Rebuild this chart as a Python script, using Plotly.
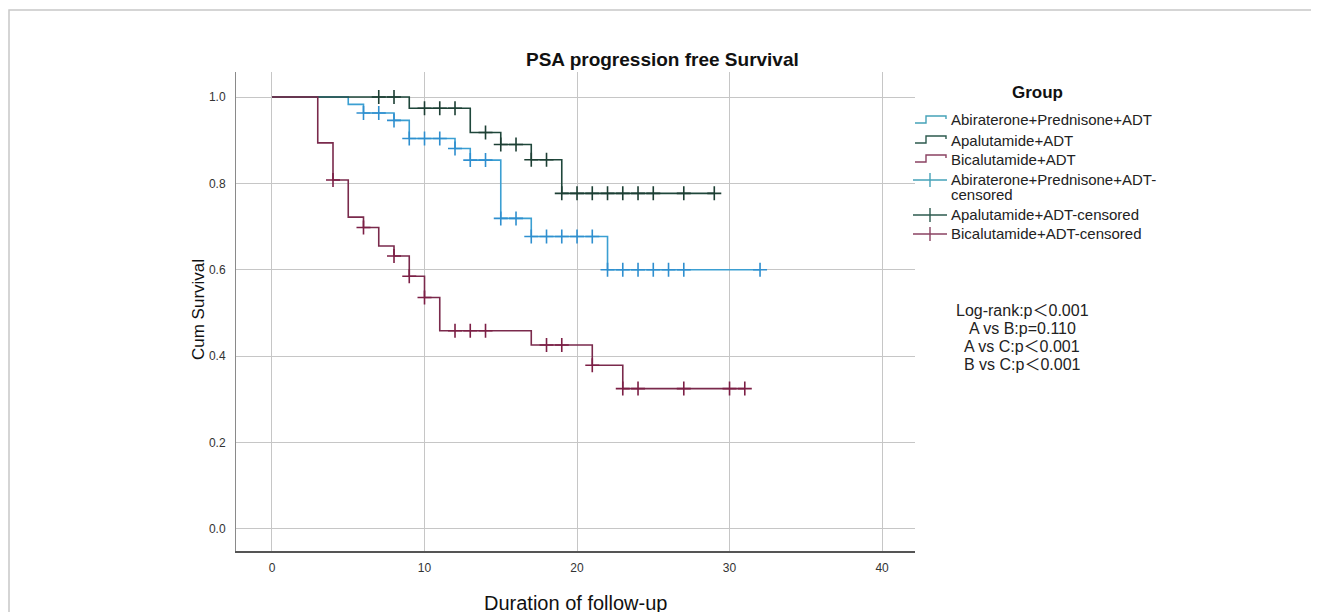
import plotly.graph_objects as go

# ---- data ----
abi_times = [0, 5, 6, 8, 9, 12, 13, 15, 17, 22, 32]
abi_surv = [1.0, 0.983, 0.963, 0.946, 0.904, 0.881, 0.854, 0.719, 0.677, 0.600, 0.600]
abi_cens = [6, 7, 8, 9, 10, 11, 12, 13, 14, 15, 16, 17, 18, 19, 20, 21, 22, 23, 24, 25, 26, 27, 32]

apa_times = [0, 9, 13, 15, 17, 19, 29]
apa_surv = [1.0, 0.974, 0.918, 0.890, 0.855, 0.777, 0.777]
apa_cens = [7, 8, 10, 11, 12, 14, 15, 16, 17, 18, 19, 20, 21, 22, 23, 24, 25, 27, 29]

bic_times = [0, 3, 4, 5, 6, 7, 8, 9, 10, 11, 17, 21, 23, 31]
bic_surv = [1.0, 0.894, 0.808, 0.722, 0.698, 0.655, 0.632, 0.585, 0.536, 0.459, 0.426, 0.379, 0.325, 0.325]
bic_cens = [4, 6, 8, 9, 10, 12, 13, 14, 18, 19, 21, 23, 24, 27, 30, 31]

group_names = ["Abiraterone+Prednisone+ADT", "Apalutamide+ADT", "Bicalutamide+ADT"]
censor_names = [["Abiraterone+Prednisone+ADT-", "censored"], ["Apalutamide+ADT-censored"],
                ["Bicalutamide+ADT-censored"]]
x_ticks = [0, 10, 20, 30, 40]
y_ticks = [0.0, 0.2, 0.4, 0.6, 0.8, 1.0]
stats_lines = ["Log-rank:p＜0.001", "A vs B:p=0.110", "A vs C:p＜0.001", "B vs C:p＜0.001"]

line_colors = ["#3b9fd2", "#1f473b", "#7a2a4c"]
mark_colors = ["#2f8fcf", "#1d3f34", "#7c1f45"]
legend_colors = ["#45a2b8", "#2c5a4e", "#8a4262"]


def surv_at(times, surv, t):
    val = surv[0]
    for ti, si in zip(times, surv):
        if ti <= t:
            val = si
    return val


fig = go.Figure()
groups = [(abi_times, abi_surv), (apa_times, apa_surv), (bic_times, bic_surv)]
for i, (tt, ss) in enumerate(groups):
    fig.add_trace(go.Scatter(
        x=tt, y=ss, mode="lines", line=dict(shape="hv", color=line_colors[i], width=1.6),
        name=group_names[i], showlegend=False))

cens = [abi_cens, apa_cens, bic_cens]
for i, (tt, ss) in enumerate(groups):
    cy = [surv_at(tt, ss, c) for c in cens[i]]
    fig.add_trace(go.Scatter(
        x=cens[i], y=cy, mode="markers",
        marker=dict(symbol="cross-thin", size=10,
                    line=dict(width=1.6, color=mark_colors[i]), color=mark_colors[i]),
        name=" ".join(censor_names[i]), showlegend=False))

font_main = "Liberation Sans, Arial, Noto Sans CJK SC, sans-serif"

# plot area in screen pixels: left 236, top 72, width 679, height 479
PL, PT, PW, PH = 236.0, 72.0, 679.0, 479.0


def px(x):
    return (x - PL) / PW


def py(y):
    return 1 - (y - PT) / PH


fig.update_layout(
    width=1319, height=612,
    margin=dict(l=228, r=412, t=64, b=69),
    paper_bgcolor="white", plot_bgcolor="white",
    font=dict(family=font_main, color="#222"),
    showlegend=False,
    xaxis=dict(
        range=[-2.36, 42.16], tickvals=x_ticks, showgrid=True, gridcolor="#c6c6c6", gridwidth=1,
        zeroline=False, showline=True, linecolor="#555", linewidth=1.5, ticks="",
        tickfont=dict(size=12, family=font_main, color="#333"), ticklabelstandoff=5,
    ),
    yaxis=dict(
        range=[-0.051, 1.058], tickvals=y_ticks, tickformat=".1f", showgrid=True,
        gridcolor="#c6c6c6", gridwidth=1, zeroline=False, showline=True, linecolor="#8a8a8a",
        linewidth=1, ticks="", tickfont=dict(size=12, family=font_main, color="#333"),
        ticklabelstandoff=7,
    ),
)

# Title and axis titles
fig.add_annotation(text="<b>PSA progression free Survival</b>", xref="paper", yref="paper",
                   x=px(662), y=py(60), xanchor="center", yanchor="middle", showarrow=False,
                   font=dict(size=19, family=font_main, color="#111"))
fig.add_annotation(text="Duration of follow-up", xref="paper", yref="paper",
                   x=0.5, y=py(603), xanchor="center", yanchor="middle", showarrow=False,
                   font=dict(size=20, family=font_main, color="#111"))
fig.add_annotation(text="Cum Survival", xref="paper", yref="paper", textangle=-90,
                   x=px(198), y=py(310), xanchor="center", yanchor="middle", showarrow=False,
                   font=dict(size=17, family=font_main, color="#111"))

# statistics text
for k, line in enumerate(stats_lines):
    fig.add_annotation(text=line, xref="paper", yref="paper",
                       x=px(1022), y=py(310 + 18 * k), xanchor="center", yanchor="middle",
                       showarrow=False, font=dict(size=16, family=font_main, color="#222"))

# ---- legend (drawn by hand to match the reference spacing) ----
fig.add_annotation(text="<b>Group</b>", xref="paper", yref="paper",
                   x=px(1037), y=py(92), xanchor="center", yanchor="middle", showarrow=False,
                   font=dict(size=17, family=font_main, color="#111"))
step_rows = [120, 140, 159]
for i, yc in enumerate(step_rows):
    path = "M {a},{b} L {c},{b} L {c},{d} L {e},{d} L {e},{f}".format(
        a=px(915), b=py(yc + 3), c=px(926), d=py(yc - 4), e=px(946), f=py(yc - 1))
    fig.add_shape(type="path", xref="paper", yref="paper", path=path,
                  line=dict(color=legend_colors[i], width=1.4))
    fig.add_annotation(text=group_names[i], xref="paper", yref="paper",
                       x=px(949), y=py(yc), xanchor="left", yanchor="middle", showarrow=False,
                       font=dict(size=15, family=font_main, color="#222"))

cens_rows = [(179, [179, 195]), (214, [214]), (233, [233])]
for i, (yc, text_rows) in enumerate(cens_rows):
    fig.add_shape(type="line", xref="paper", yref="paper", x0=px(913), x1=px(947),
                  y0=py(yc + 1), y1=py(yc + 1), line=dict(color=legend_colors[i], width=1.4))
    fig.add_shape(type="line", xref="paper", yref="paper", x0=px(930), x1=px(930),
                  y0=py(yc - 6), y1=py(yc + 8), line=dict(color=legend_colors[i], width=1.4))
    for txt, ty in zip(censor_names[i], text_rows):
        fig.add_annotation(text=txt, xref="paper", yref="paper",
                           x=px(949), y=py(ty), xanchor="left", yanchor="middle", showarrow=False,
                           font=dict(size=15, family=font_main, color="#222"))

# outer frame (left edge kept inside the figure so it stays visible)
fig.add_shape(type="rect", xref="paper", yref="paper", x0=px(9), x1=px(1400), y0=py(700), y1=py(10),
              line=dict(color="#c8c8c8", width=1.5), fillcolor="rgba(0,0,0,0)", layer="below")

fig.write_html("out.html")
